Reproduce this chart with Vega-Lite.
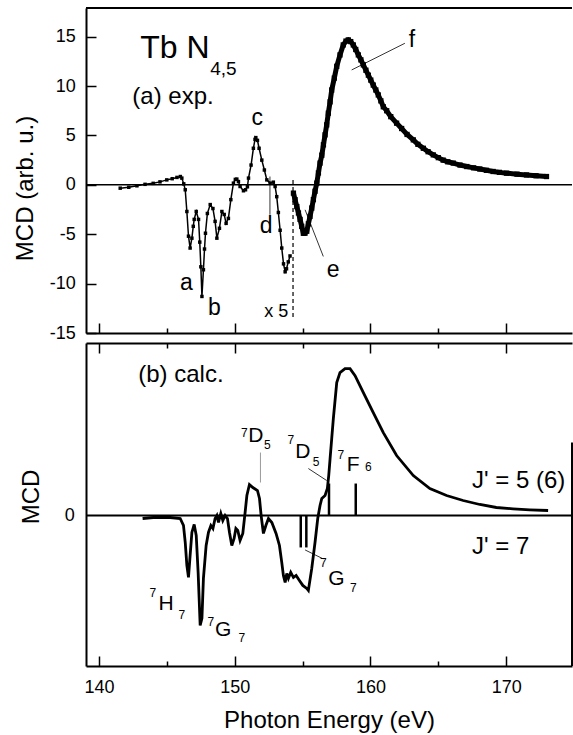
{
  "$schema": "https://vega.github.io/schema/vega-lite/v6.json",
  "padding": {"left": 13, "top": 7, "right": 0, "bottom": 0},
  "spacing": 10,
  "bounds": "flush",
  "config": {
    "font": "Liberation Sans",
    "view": {"stroke": null},
    "axis": {"labelFont": "Liberation Sans", "titleFont": "Liberation Sans", "labelFontSize": 18, "titleFontSize": 24, "titleFontWeight": "normal", "labelColor": "black", "titleColor": "black", "domainColor": "black", "tickColor": "black", "domainWidth": 2, "tickWidth": 1.5, "grid": false, "labelFlush": false, "labelOverlap": false, "labelBound": false},
    "text": {"font": "Liberation Sans", "color": "black"}
  },
  "datasets": {
    "exp": [
      {"E":141.57,"v":-0.34,"part":"x5"},{"E":142.2,"v":-0.25,"part":"x5"},{"E":142.8,"v":-0.1,"part":"x5"},{"E":143.4,"v":0.05,"part":"x5"},{"E":144.0,"v":0.15,"part":"x5"},{"E":144.5,"v":0.3,"part":"x5"},{"E":145.0,"v":0.5,"part":"x5"},{"E":145.4,"v":0.62,"part":"x5"},{"E":145.75,"v":0.75,"part":"x5"},{"E":146.0,"v":0.84,"part":"x5"},{"E":146.11,"v":0.68,"part":"x5"},{"E":146.25,"v":0.1,"part":"x5"},{"E":146.36,"v":-0.5,"part":"x5"},{"E":146.48,"v":-2.7,"part":"x5"},{"E":146.6,"v":-5.2,"part":"x5"},{"E":146.72,"v":-6.4,"part":"x5"},{"E":146.85,"v":-5.4,"part":"x5"},{"E":146.95,"v":-4.2,"part":"x5"},{"E":147.02,"v":-3.5,"part":"x5"},{"E":147.17,"v":-2.7,"part":"x5"},{"E":147.34,"v":-3.5,"part":"x5"},{"E":147.43,"v":-5.8,"part":"x5"},{"E":147.51,"v":-8.3,"part":"x5"},{"E":147.59,"v":-11.3,"part":"x5"},{"E":147.7,"v":-8.6,"part":"x5"},{"E":147.78,"v":-6.5,"part":"x5"},{"E":147.85,"v":-4.9,"part":"x5"},{"E":147.99,"v":-2.9,"part":"x5"},{"E":148.2,"v":-2.0,"part":"x5"},{"E":148.4,"v":-2.4,"part":"x5"},{"E":148.56,"v":-3.7,"part":"x5"},{"E":148.69,"v":-5.4,"part":"x5"},{"E":148.88,"v":-4.4,"part":"x5"},{"E":149.06,"v":-2.7,"part":"x5"},{"E":149.23,"v":-3.0,"part":"x5"},{"E":149.37,"v":-3.9,"part":"x5"},{"E":149.54,"v":-3.4,"part":"x5"},{"E":149.72,"v":-1.5,"part":"x5"},{"E":149.91,"v":0.17,"part":"x5"},{"E":150.05,"v":0.55,"part":"x5"},{"E":150.16,"v":0.58,"part":"x5"},{"E":150.28,"v":0.33,"part":"x5"},{"E":150.4,"v":-0.17,"part":"x5"},{"E":150.65,"v":-0.6,"part":"x5"},{"E":150.8,"v":-0.5,"part":"x5"},{"E":150.94,"v":-0.2,"part":"x5"},{"E":151.02,"v":0.68,"part":"x5"},{"E":151.21,"v":2.0,"part":"x5"},{"E":151.38,"v":3.7,"part":"x5"},{"E":151.5,"v":4.6,"part":"x5"},{"E":151.56,"v":4.78,"part":"x5"},{"E":151.68,"v":4.5,"part":"x5"},{"E":151.8,"v":3.7,"part":"x5"},{"E":152.0,"v":2.5,"part":"x5"},{"E":152.19,"v":1.5,"part":"x5"},{"E":152.37,"v":0.5,"part":"x5"},{"E":152.61,"v":0.17,"part":"x5"},{"E":152.85,"v":0.27,"part":"x5"},{"E":152.98,"v":-0.17,"part":"x5"},{"E":153.1,"v":-1.2,"part":"x5"},{"E":153.22,"v":-2.8,"part":"x5"},{"E":153.35,"v":-4.6,"part":"x5"},{"E":153.47,"v":-6.4,"part":"x5"},{"E":153.6,"v":-8.0,"part":"x5"},{"E":153.72,"v":-8.8,"part":"x5"},{"E":153.82,"v":-8.5,"part":"x5"},{"E":153.95,"v":-7.8,"part":"x5"},{"E":154.08,"v":-7.2,"part":"x5"},
      {"E":154.33,"v":-0.84,"part":"x1"},{"E":154.45,"v":-1.5,"part":"x1"},{"E":154.58,"v":-2.2,"part":"x1"},{"E":154.7,"v":-2.85,"part":"x1"},{"E":154.82,"v":-3.5,"part":"x1"},{"E":154.94,"v":-4.2,"part":"x1"},{"E":155.06,"v":-4.9,"part":"x1"},{"E":155.18,"v":-4.9,"part":"x1"},{"E":155.31,"v":-4.7,"part":"x1"},{"E":155.43,"v":-3.95,"part":"x1"},{"E":155.55,"v":-3.2,"part":"x1"},{"E":155.68,"v":-2.35,"part":"x1"},{"E":155.8,"v":-1.5,"part":"x1"},{"E":155.92,"v":-0.65,"part":"x1"},{"E":156.05,"v":0.17,"part":"x1"},{"E":156.17,"v":1.2,"part":"x1"},{"E":156.29,"v":2.2,"part":"x1"},{"E":156.42,"v":3.0,"part":"x1"},{"E":156.54,"v":4.05,"part":"x1"},{"E":156.66,"v":5.06,"part":"x1"},{"E":156.78,"v":6.07,"part":"x1"},{"E":156.9,"v":7.25,"part":"x1"},{"E":157.03,"v":8.4,"part":"x1"},{"E":157.15,"v":9.6,"part":"x1"},{"E":157.34,"v":10.8,"part":"x1"},{"E":157.52,"v":12.0,"part":"x1"},{"E":157.76,"v":13.15,"part":"x1"},{"E":158.0,"v":14.16,"part":"x1"},{"E":158.2,"v":14.55,"part":"x1"},{"E":158.37,"v":14.67,"part":"x1"},{"E":158.55,"v":14.5,"part":"x1"},{"E":158.74,"v":14.16,"part":"x1"},{"E":158.92,"v":13.7,"part":"x1"},{"E":159.11,"v":13.15,"part":"x1"},{"E":159.3,"v":12.65,"part":"x1"},{"E":159.48,"v":12.14,"part":"x1"},{"E":159.67,"v":11.6,"part":"x1"},{"E":159.85,"v":11.1,"part":"x1"},{"E":160.03,"v":10.6,"part":"x1"},{"E":160.21,"v":10.1,"part":"x1"},{"E":160.4,"v":9.6,"part":"x1"},{"E":160.58,"v":9.1,"part":"x1"},{"E":160.77,"v":8.5,"part":"x1"},{"E":160.95,"v":7.9,"part":"x1"},{"E":161.2,"v":7.5,"part":"x1"},{"E":161.5,"v":6.9,"part":"x1"},{"E":161.93,"v":6.24,"part":"x1"},{"E":162.3,"v":5.7,"part":"x1"},{"E":162.7,"v":5.1,"part":"x1"},{"E":163.16,"v":4.55,"part":"x1"},{"E":163.5,"v":4.1,"part":"x1"},{"E":163.9,"v":3.7,"part":"x1"},{"E":164.25,"v":3.35,"part":"x1"},{"E":164.63,"v":3.03,"part":"x1"},{"E":165.0,"v":2.75,"part":"x1"},{"E":165.36,"v":2.5,"part":"x1"},{"E":165.7,"v":2.33,"part":"x1"},{"E":166.1,"v":2.2,"part":"x1"},{"E":166.6,"v":2.0,"part":"x1"},{"E":167.1,"v":1.85,"part":"x1"},{"E":167.6,"v":1.72,"part":"x1"},{"E":168.06,"v":1.6,"part":"x1"},{"E":168.55,"v":1.47,"part":"x1"},{"E":169.04,"v":1.35,"part":"x1"},{"E":169.5,"v":1.26,"part":"x1"},{"E":170.03,"v":1.18,"part":"x1"},{"E":170.8,"v":1.08,"part":"x1"},{"E":171.5,"v":1.0,"part":"x1"},{"E":172.2,"v":0.92,"part":"x1"},{"E":172.97,"v":0.84,"part":"x1"}
    ],
    "calc": [
      {"E":143.22,"v":-0.03},{"E":144.0,"v":-0.02},{"E":145.25,"v":-0.02},{"E":145.99,"v":-0.03},{"E":146.23,"v":-0.1},{"E":146.36,"v":-0.27},{"E":146.48,"v":-0.5},{"E":146.6,"v":-0.62},{"E":146.72,"v":-0.4},{"E":146.85,"v":-0.17},{"E":147.02,"v":-0.09},{"E":147.17,"v":-0.2},{"E":147.31,"v":-0.57},{"E":147.46,"v":-1.1},{"E":147.59,"v":-1.03},{"E":147.7,"v":-0.63},{"E":147.9,"v":-0.3},{"E":148.07,"v":-0.17},{"E":148.25,"v":-0.1},{"E":148.4,"v":-0.13},{"E":148.56,"v":-0.03},{"E":148.69,"v":0.0},{"E":148.81,"v":-0.07},{"E":148.98,"v":0.02},{"E":149.13,"v":-0.05},{"E":149.3,"v":0.0},{"E":149.47,"v":-0.03},{"E":149.62,"v":-0.17},{"E":149.79,"v":-0.3},{"E":149.96,"v":-0.23},{"E":150.09,"v":-0.13},{"E":150.23,"v":-0.15},{"E":150.4,"v":-0.25},{"E":150.6,"v":-0.18},{"E":150.77,"v":0.03},{"E":150.9,"v":0.2},{"E":151.09,"v":0.31},{"E":151.34,"v":0.28},{"E":151.68,"v":0.25},{"E":151.83,"v":0.17},{"E":151.95,"v":0.0},{"E":152.12,"v":-0.18},{"E":152.3,"v":-0.1},{"E":152.49,"v":-0.03},{"E":152.74,"v":-0.07},{"E":153.05,"v":-0.18},{"E":153.3,"v":-0.3},{"E":153.47,"v":-0.47},{"E":153.59,"v":-0.6},{"E":153.72,"v":-0.67},{"E":153.84,"v":-0.58},{"E":153.96,"v":-0.63},{"E":154.13,"v":-0.57},{"E":154.33,"v":-0.62},{"E":154.53,"v":-0.6},{"E":154.77,"v":-0.65},{"E":155.02,"v":-0.7},{"E":155.31,"v":-0.73},{"E":155.43,"v":-0.75},{"E":155.68,"v":-0.53},{"E":155.92,"v":-0.27},{"E":156.12,"v":-0.03},{"E":156.29,"v":0.1},{"E":156.42,"v":0.17},{"E":156.66,"v":0.2},{"E":156.83,"v":0.27},{"E":156.93,"v":0.4},{"E":157.03,"v":0.57},{"E":157.15,"v":0.77},{"E":157.27,"v":0.97},{"E":157.52,"v":1.33},{"E":157.76,"v":1.43},{"E":158.13,"v":1.47},{"E":158.5,"v":1.47},{"E":158.87,"v":1.4},{"E":159.48,"v":1.23},{"E":160.21,"v":1.03},{"E":160.95,"v":0.83},{"E":161.93,"v":0.6},{"E":163.16,"v":0.4},{"E":164.38,"v":0.27},{"E":165.61,"v":0.2},{"E":166.83,"v":0.15},{"E":168.06,"v":0.11},{"E":169.28,"v":0.08},{"E":170.51,"v":0.067},{"E":171.74,"v":0.057},{"E":173.09,"v":0.05}
    ],
    "sticks": [
      {"E":154.87,"v":-0.32},{"E":155.28,"v":-0.32},{"E":156.95,"v":0.32},{"E":158.92,"v":0.32}
    ],
    "top_pointers": [
      {"E":152.6,"v":0.84,"E2":152.6,"v2":-3.03},
      {"E":155.19,"v":-2.53,"E2":156.53,"v2":-7.25},
      {"E":158.62,"v":11.63,"E2":162.54,"v2":14.33}
    ],
    "bot_pointers": [
      {"E":155.43,"v":0.47,"E2":156.78,"v2":0.35},
      {"E":155.19,"v":-0.345,"E2":156.53,"v2":-0.435}
    ],
    "bot_pointers_gray": [
      {"E":151.9,"v":0.63,"E2":151.9,"v2":0.33}
    ],
    "top_letters": [
      {"E":151.66,"v":6.07,"t":"c"},{"E":146.45,"v":-10.62,"t":"a"},{"E":148.5,"v":-13.15,"t":"b"},{"E":152.32,"v":-4.85,"t":"d"},{"E":157.25,"v":-9.3,"t":"e"},{"E":163.06,"v":13.96,"t":"f"}
    ],
    "terms_main": [
      {"E":151.0,"v":0.735,"t":"D"},{"E":154.46,"v":0.58,"t":"D"},{"E":158.26,"v":0.448,"t":"F"},{"E":156.9,"v":-0.7,"t":"G"},{"E":144.39,"v":-0.95,"t":"H"},{"E":148.56,"v":-1.205,"t":"G"}
    ],
    "terms_sup": [
      {"E":150.96,"v":0.785,"t":"7"},{"E":154.38,"v":0.715,"t":"7"},{"E":158.06,"v":0.565,"t":"7"},{"E":156.78,"v":-0.515,"t":"7"},{"E":144.22,"v":-0.815,"t":"7"},{"E":148.49,"v":-1.105,"t":"7"}
    ],
    "terms_sub": [
      {"E":152.17,"v":0.665,"t":"5"},{"E":155.75,"v":0.495,"t":"5"},{"E":159.6,"v":0.445,"t":"6"},{"E":158.5,"v":-0.765,"t":"7"},{"E":145.86,"v":-1.035,"t":"7"},{"E":150.28,"v":-1.265,"t":"7"}
    ],
    "jlabels": [
      {"E":167.48,"v":0.28,"t":"J' = 5 (6)"},{"E":167.48,"v":-0.385,"t":"J' = 7"}
    ]
  },
  "vconcat": [
    {
      "width": 486,
      "height": 325,
      "layer": [
        {
          "data": {"name": "exp"},
          "transform": [{"filter": "datum.part === 'x5'"}],
          "mark": {"type": "line", "color": "black", "strokeWidth": 1.5},
          "encoding": {
            "x": {"field": "E", "type": "quantitative", "scale": {"domain": [139.05, 174.85], "nice": false, "zero": false},
                  "axis": {"orient": "bottom", "values": [140,145,150,155,160,165,170], "labels": false, "title": null,
                           "tickSize": {"condition": {"test": "datum.value % 10 === 0", "value": -10}, "value": -5}}},
            "y": {"field": "v", "type": "quantitative", "scale": {"domain": [-15, 17.9], "nice": false, "zero": false},
                  "axis": {"values": [-15,-12.5,-10,-7.5,-5,-2.5,0,2.5,5,7.5,10,12.5,15],
                           "labelExpr": "datum.value % 5 === 0 ? '' + datum.value : ''",
                           "tickSize": {"condition": {"test": "datum.value % 5 === 0", "value": -10}, "value": -6},
                           "labelPadding": 20.7, "title": "MCD (arb. u.)", "titleBaseline": "alphabetic", "titleX": -53.7, "titleY": 180}}
          }
        },
        {
          "data": {"name": "exp"},
          "transform": [{"filter": "datum.part === 'x5'"}],
          "mark": {"type": "point", "shape": "square", "filled": true, "size": 12, "color": "black", "opacity": 1},
          "encoding": {
            "x": {"field": "E", "type": "quantitative"},
            "y": {"field": "v", "type": "quantitative"}
          }
        },
        {
          "data": {"name": "exp"},
          "transform": [{"filter": "datum.part === 'x1'"}],
          "mark": {"type": "line", "color": "black", "strokeWidth": 5},
          "encoding": {
            "x": {"field": "E", "type": "quantitative"},
            "y": {"field": "v", "type": "quantitative"}
          }
        },
        {
          "data": {"name": "exp"},
          "transform": [{"filter": "datum.part === 'x1'"}],
          "mark": {"type": "point", "shape": "square", "filled": true, "size": 28, "color": "black", "opacity": 1},
          "encoding": {
            "x": {"field": "E", "type": "quantitative"},
            "y": {"field": "v", "type": "quantitative"}
          }
        },
        {
          "data": {"values": [{}]},
          "mark": {"type": "rule", "color": "black", "strokeWidth": 1.5},
          "encoding": {"y": {"datum": 0, "type": "quantitative"}}
        },
        {
          "data": {"values": [{}]},
          "mark": {"type": "rule", "color": "black", "strokeWidth": 2},
          "encoding": {"y": {"datum": 17.9, "type": "quantitative"}}
        },
        {
          "data": {"values": [{}]},
          "mark": {"type": "rule", "color": "black", "strokeWidth": 1.2, "strokeDash": [4, 3]},
          "encoding": {
            "x": {"datum": 154.3, "type": "quantitative"},
            "y": {"datum": 0.5, "type": "quantitative"},
            "y2": {"datum": -13.6}
          }
        },
        {
          "data": {"name": "top_pointers"},
          "mark": {"type": "rule", "color": "black", "strokeWidth": 0.8},
          "encoding": {
            "x": {"field": "E", "type": "quantitative"},
            "y": {"field": "v", "type": "quantitative"},
            "x2": {"field": "E2"},
            "y2": {"field": "v2"}
          }
        },
        {
          "data": {"name": "top_letters"},
          "mark": {"type": "text", "fontSize": 23, "align": "center", "baseline": "alphabetic"},
          "encoding": {
            "x": {"field": "E", "type": "quantitative"},
            "y": {"field": "v", "type": "quantitative"},
            "text": {"field": "t"}
          }
        },
        {
          "data": {"values": [{"E": 143.05, "v": 12.81, "t": "Tb N"}]},
          "mark": {"type": "text", "fontSize": 32, "align": "left", "baseline": "alphabetic"},
          "encoding": {
            "x": {"field": "E", "type": "quantitative"},
            "y": {"field": "v", "type": "quantitative"},
            "text": {"field": "t"}
          }
        },
        {
          "data": {"values": [{"E": 148.2, "v": 11.13, "t": "4,5"}]},
          "mark": {"type": "text", "fontSize": 19, "align": "left", "baseline": "alphabetic"},
          "encoding": {
            "x": {"field": "E", "type": "quantitative"},
            "y": {"field": "v", "type": "quantitative"},
            "text": {"field": "t"}
          }
        },
        {
          "data": {"values": [{"E": 142.46, "v": 8.19, "t": "(a) exp."}]},
          "mark": {"type": "text", "fontSize": 24, "align": "left", "baseline": "alphabetic"},
          "encoding": {
            "x": {"field": "E", "type": "quantitative"},
            "y": {"field": "v", "type": "quantitative"},
            "text": {"field": "t"}
          }
        },
        {
          "data": {"values": [{"E": 153.06, "v": -13.35, "t": "x 5"}]},
          "mark": {"type": "text", "fontSize": 18, "align": "center", "baseline": "alphabetic"},
          "encoding": {
            "x": {"field": "E", "type": "quantitative"},
            "y": {"field": "v", "type": "quantitative"},
            "text": {"field": "t"}
          }
        }
      ]
    },
    {
      "width": 486,
      "height": 323,
      "resolve": {"axis": {"x": "independent"}},
      "layer": [
        {
          "data": {"name": "calc"},
          "mark": {"type": "line", "color": "black", "strokeWidth": 2.8},
          "encoding": {
            "x": {"field": "E", "type": "quantitative", "scale": {"domain": [139.05, 174.85], "nice": false, "zero": false},
                  "axis": {"orient": "bottom", "values": [140,145,150,155,160,165,170],
                           "labelExpr": "datum.value % 10 === 0 ? '' + datum.value : ''",
                           "labelBaseline": "alphabetic", "labelPadding": 36.6,
                           "tickSize": {"condition": {"test": "datum.value % 10 === 0", "value": -10}, "value": -5},
                           "title": "Photon Energy (eV)", "titleBaseline": "alphabetic", "titleY": 61.6}},
            "y": {"field": "v", "type": "quantitative", "scale": {"domain": [-1.507, 1.727], "nice": false, "zero": false},
                  "axis": {"values": [0], "labelExpr": "'' + datum.value", "ticks": false, "labelPadding": 11.7, "title": "MCD", "titleBaseline": "alphabetic", "titleX": -47.4, "titleY": 153.4}}
          }
        },
        {
          "data": {"name": "sticks"},
          "mark": {"type": "rule", "color": "black", "strokeWidth": 2.5},
          "encoding": {
            "x": {"field": "E", "type": "quantitative",
                  "axis": {"orient": "top", "values": [140,145,150,155,160,165,170], "labels": false, "title": null,
                           "tickSize": {"condition": {"test": "datum.value % 10 === 0", "value": -10}, "value": -5}}},
            "y": {"field": "v", "type": "quantitative"},
            "y2": {"datum": 0}
          }
        },
        {
          "data": {"values": [{}]},
          "mark": {"type": "rule", "color": "black", "strokeWidth": 2},
          "encoding": {"y": {"datum": 0, "type": "quantitative"}}
        },
        {
          "data": {"values": [{}]},
          "mark": {"type": "rule", "color": "black", "strokeWidth": 2},
          "encoding": {
            "x": {"datum": 174.85, "type": "quantitative", "axis": null},
            "y": {"datum": 0.73, "type": "quantitative"},
            "y2": {"datum": -1.507}
          }
        },
        {
          "data": {"name": "bot_pointers"},
          "mark": {"type": "rule", "color": "black", "strokeWidth": 0.8},
          "encoding": {
            "x": {"field": "E", "type": "quantitative", "axis": null},
            "y": {"field": "v", "type": "quantitative"},
            "x2": {"field": "E2"},
            "y2": {"field": "v2"}
          }
        },
        {
          "data": {"name": "bot_pointers_gray"},
          "mark": {"type": "rule", "color": "#999999", "strokeWidth": 1},
          "encoding": {
            "x": {"field": "E", "type": "quantitative", "axis": null},
            "y": {"field": "v", "type": "quantitative"},
            "x2": {"field": "E2"},
            "y2": {"field": "v2"}
          }
        },
        {
          "data": {"values": [{"E": 142.9, "v": 1.335, "t": "(b) calc."}]},
          "mark": {"type": "text", "fontSize": 24, "align": "left", "baseline": "alphabetic"},
          "encoding": {
            "x": {"field": "E", "type": "quantitative", "axis": null},
            "y": {"field": "v", "type": "quantitative"},
            "text": {"field": "t"}
          }
        },
        {
          "data": {"name": "terms_main"},
          "mark": {"type": "text", "fontSize": 21, "align": "left", "baseline": "alphabetic"},
          "encoding": {
            "x": {"field": "E", "type": "quantitative", "axis": null},
            "y": {"field": "v", "type": "quantitative"},
            "text": {"field": "t"}
          }
        },
        {
          "data": {"name": "terms_sup"},
          "mark": {"type": "text", "fontSize": 12, "align": "right", "baseline": "alphabetic"},
          "encoding": {
            "x": {"field": "E", "type": "quantitative", "axis": null},
            "y": {"field": "v", "type": "quantitative"},
            "text": {"field": "t"}
          }
        },
        {
          "data": {"name": "terms_sub"},
          "mark": {"type": "text", "fontSize": 12, "align": "left", "baseline": "alphabetic"},
          "encoding": {
            "x": {"field": "E", "type": "quantitative", "axis": null},
            "y": {"field": "v", "type": "quantitative"},
            "text": {"field": "t"}
          }
        },
        {
          "data": {"name": "jlabels"},
          "mark": {"type": "text", "fontSize": 24, "align": "left", "baseline": "alphabetic"},
          "encoding": {
            "x": {"field": "E", "type": "quantitative", "axis": null},
            "y": {"field": "v", "type": "quantitative"},
            "text": {"field": "t"}
          }
        }
      ]
    }
  ]
}
